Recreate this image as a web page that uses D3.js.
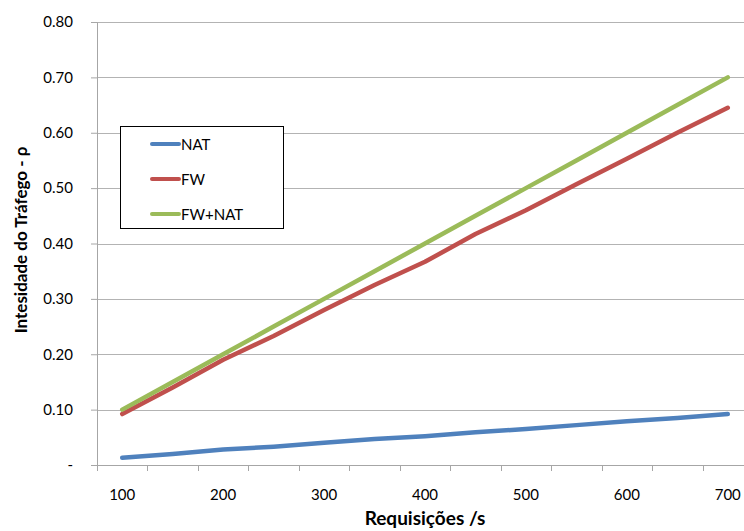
<!DOCTYPE html>
<html>
<head>
<meta charset="utf-8">
<script src="https://cdn.jsdelivr.net/npm/d3@7"></script>
<style>
  body { margin: 0; background: #fff; }
  text { font-family: Lato, "Noto Sans", sans-serif; fill: #000; }
</style>
</head>
<body>
<div id="chart"></div>
<script>
// categories (Requisições /s)
var categories = [100, 150, 200, 250, 300, 350, 400, 450, 500, 550, 600, 650, 700];
var tickLabels = ["100", "200", "300", "400", "500", "600", "700"];
var yTicks = [0, 0.1, 0.2, 0.3, 0.4, 0.5, 0.6, 0.7, 0.8];

var natValues = [0.013, 0.020, 0.028, 0.033, 0.040, 0.047, 0.052, 0.059, 0.065, 0.072, 0.079, 0.085, 0.092];
var fwValues = [0.092, 0.140, 0.190, 0.233, 0.280, 0.325, 0.367, 0.417, 0.460, 0.507, 0.553, 0.600, 0.645];
var fwNatValues = [0.100, 0.150, 0.200, 0.250, 0.300, 0.350, 0.400, 0.450, 0.500, 0.550, 0.600, 0.650, 0.700];

var seriesNames = ["NAT", "FW", "FW+NAT"];
var seriesColors = ["#4f81bd", "#c0504d", "#9bbb59"];
var seriesValues = [natValues, fwValues, fwNatValues];

var width = 744, height = 531;
var pLeft = 97, pRight = 753, pTop = 22, pBottom = 465;

var svg = d3.select("#chart").append("svg")
  .attr("width", width)
  .attr("height", height);

var x = d3.scaleBand().domain(categories).range([pLeft, pRight]);
var y = d3.scaleLinear().domain([0, 0.8]).range([pBottom, pTop]);

// gridlines
svg.append("g")
  .selectAll("line")
  .data(yTicks.slice(1))
  .enter()
  .append("line")
  .attr("x1", pLeft)
  .attr("x2", width)
  .attr("y1", function(d) { return Math.round(y(d)) + 0.5; })
  .attr("y2", function(d) { return Math.round(y(d)) + 0.5; })
  .style("stroke", "#b3b3b3")
  .style("stroke-width", "1px");

// y axis
var yAxis = d3.axisLeft(y)
  .tickValues(yTicks)
  .tickSize(6)
  .tickPadding(18)
  .tickFormat(function(d) { return d === 0 ? "-" : d.toFixed(2); });

var yG = svg.append("g")
  .attr("transform", "translate(" + pLeft + ",0)")
  .call(yAxis);
yG.select(".domain").style("stroke", "#a6a6a6");
yG.selectAll(".tick line").style("stroke", "#a6a6a6");
yG.selectAll("text").style("font-size", "15px").style("font-family", "Lato, 'Noto Sans', sans-serif");

// x axis: ticks between categories
var boundaries = categories.map(function(c) { return Math.round(x(c)) + 0.5; });
var xG = svg.append("g");
xG.append("line")
  .attr("x1", pLeft).attr("x2", width)
  .attr("y1", pBottom + 0.5).attr("y2", pBottom + 0.5)
  .style("stroke", "#a6a6a6");
xG.selectAll("line.tk")
  .data(boundaries)
  .enter()
  .append("line")
  .attr("class", "tk")
  .attr("x1", function(d) { return d; })
  .attr("x2", function(d) { return d; })
  .attr("y1", pBottom)
  .attr("y2", pBottom + 6)
  .style("stroke", "#a6a6a6");
xG.selectAll("text")
  .data(tickLabels)
  .enter()
  .append("text")
  .attr("x", function(d) { return x(+d) + x.bandwidth() / 2; })
  .attr("y", pBottom + 35)
  .attr("text-anchor", "middle")
  .style("font-size", "15px")
  .text(function(d) { return d; });

// lines
var line = d3.line()
  .x(function(d, i) { return x(categories[i]) + x.bandwidth() / 2; })
  .y(function(d) { return y(d); });

svg.append("g")
  .selectAll("path")
  .data(seriesValues)
  .enter()
  .append("path")
  .attr("d", function(d) { return line(d); })
  .style("fill", "none")
  .style("stroke", function(d, i) { return seriesColors[i]; })
  .style("stroke-width", "4.5px")
  .style("stroke-linecap", "round")
  .style("stroke-linejoin", "round");

// legend
var lg = svg.append("g");
lg.append("rect")
  .attr("x", 120.5).attr("y", 126.5)
  .attr("width", 163).attr("height", 102)
  .style("fill", "#fff")
  .style("stroke", "#000")
  .style("stroke-width", "1px");
var items = lg.selectAll("g.item")
  .data(seriesNames)
  .enter()
  .append("g")
  .attr("class", "item")
  .attr("transform", function(d, i) { return "translate(0," + (144 + i * 35) + ")"; });
items.append("line")
  .attr("x1", 152).attr("x2", 179)
  .attr("y1", 0).attr("y2", 0)
  .style("stroke", function(d, i) { return seriesColors[i]; })
  .style("stroke-width", "4px")
  .style("stroke-linecap", "round");
items.append("text")
  .attr("x", 181).attr("y", 6)
  .style("font-size", "15px")
  .text(function(d) { return d; });

// axis titles
svg.append("text")
  .attr("transform", "translate(27,240) rotate(-90)")
  .attr("text-anchor", "middle")
  .style("font-size", "17px")
  .style("font-weight", "bold")
  .text("Intesidade do Tráfego - ρ");

svg.append("text")
  .attr("x", 425)
  .attr("y", 525)
  .attr("text-anchor", "middle")
  .style("font-size", "19px")
  .style("font-weight", "bold")
  .text("Requisições /s");
</script>
</body>
</html>
